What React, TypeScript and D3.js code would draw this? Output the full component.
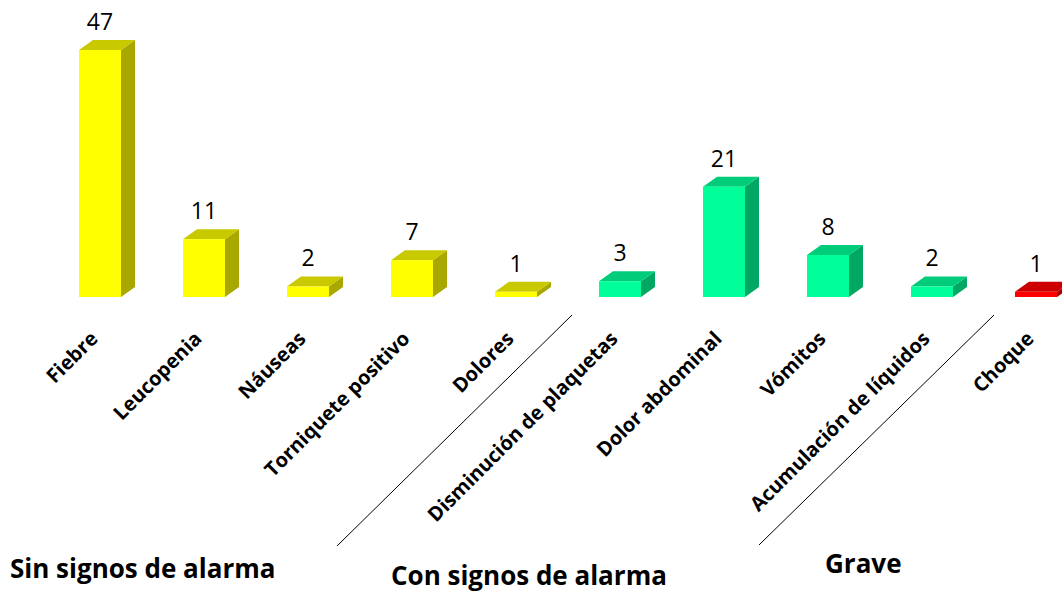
import React from "react";
import * as d3 from "d3";

const categories = [
  "Fiebre",
  "Leucopenia",
  "Náuseas",
  "Torniquete positivo",
  "Dolores",
  "Disminución de plaquetas",
  "Dolor abdominal",
  "Vómitos",
  "Acumulación de líquidos",
  "Choque",
];
const values = [47, 11, 2, 7, 1, 3, 21, 8, 2, 1];
const groupOf = ["sin", "sin", "sin", "sin", "sin", "con", "con", "con", "con", "grave"];
const groups = [
  { key: "sin", label: "Sin signos de alarma" },
  { key: "con", label: "Con signos de alarma" },
  { key: "grave", label: "Grave" },
];

const palette: Record<string, { front: string; top: string; side: string }> = {
  sin: { front: "#FFFF00", top: "#C9C900", side: "#A8A800" },
  con: { front: "#00FF99", top: "#00CC7A", side: "#00A864" },
  grave: { front: "#FF0000", top: "#CC0000", side: "#A80000" },
};

const W = 1062;
const H = 592;
const BASE = 297;
const DX = 14;
const DY = 10;

export default function App() {
  const x = d3
    .scaleBand<string>()
    .domain(categories)
    .range([48, 1088])
    .paddingInner(0.596)
    .paddingOuter(0.298);
  const y = d3.scaleLinear().domain([0, 47]).range([BASE, 50]);
  const bw = x.bandwidth();

  const groupLabelPos: Record<string, { x: number; y: number }> = {
    sin: { x: 10, y: 578 },
    con: { x: 391, y: 585 },
    grave: { x: 825, y: 573 },
  };

  return (
    <svg
      width={W}
      height={H}
      style={{ position: "absolute", left: 0, top: 0, background: "#fff" }}
      fontFamily="'Open Sans', sans-serif"
    >
      {categories.map((c, i) => {
        const x0 = x(c)!;
        const yt = y(values[i]);
        const col = palette[groupOf[i]];
        const top = [
          [x0, yt],
          [x0 + DX, yt - DY],
          [x0 + bw + DX, yt - DY],
          [x0 + bw, yt],
        ];
        const side = [
          [x0 + bw, yt],
          [x0 + bw + DX, yt - DY],
          [x0 + bw + DX, BASE - DY],
          [x0 + bw, BASE],
        ];
        const pts = (p: number[][]) => p.map((q) => q.join(",")).join(" ");
        return (
          <g key={c}>
            <polygon points={pts(side)} fill={col.side} />
            <polygon points={pts(top)} fill={col.top} />
            <rect x={x0} y={yt} width={bw} height={BASE - yt} fill={col.front} />
            <text
              x={x0 + bw / 2}
              y={yt - DY - 10}
              textAnchor="middle"
              fontSize={23}
              fill="#000"
            >
              {values[i]}
            </text>
            <text
              transform={`translate(${x0 + bw / 2 - 1},340) rotate(-45)`}
              textAnchor="end"
              fontSize={20}
              fontWeight="bold"
              fill="#000"
            >
              {c}
            </text>
          </g>
        );
      })}
      <line x1={337} y1={546} x2={572} y2={315} stroke="#000" strokeWidth={1} />
      <line x1={759} y1={545} x2={994} y2={315} stroke="#000" strokeWidth={1} />
      {groups.map((g) => (
        <text
          key={g.key}
          x={groupLabelPos[g.key].x}
          y={groupLabelPos[g.key].y}
          fontSize={26}
          fontWeight="bold"
          fill="#000"
        >
          {g.label}
        </text>
      ))}
    </svg>
  );
}
